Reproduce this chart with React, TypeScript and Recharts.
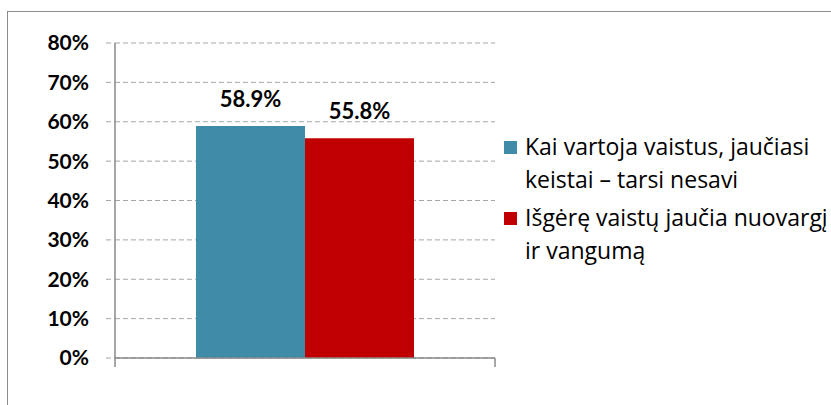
import React from 'react';
import { BarChart, Bar, XAxis, YAxis, CartesianGrid, LabelList } from 'recharts';

const categories = [''];
const firstValues = [58.9];
const secondValues = [55.8];
const seriesNames = [
  ['Kai vartoja vaistus, jaučiasi', 'keistai – tarsi nesavi'],
  ['Išgėrę vaistų jaučia nuovargį', 'ir vangumą'],
];
const seriesColors = ['#3F8CA8', '#C00000'];
const yTicks = [0, 10, 20, 30, 40, 50, 60, 70, 80];

const data = categories.map((name, i) => ({ name, a: firstValues[i], b: secondValues[i] }));

const FONT = 'Lato, "Noto Sans", sans-serif';
const LEGEND_FONT = '"Open Sans", "Noto Sans", sans-serif';

// category boundary tick marks, Excel style (between categories, not at centre)
const BoundaryTick = (props: any) => {
  const { x, y, payload } = props;
  const half = payload && payload.offset ? payload.offset : 0;
  if (!half) return <g />;
  return (
    <g>
      <line x1={x - half} x2={x - half} y1={y} y2={y + 9} stroke="#888888" strokeWidth={1.5} />
      <line x1={x + half} x2={x + half} y1={y} y2={y + 9} stroke="#888888" strokeWidth={1.5} />
    </g>
  );
};

const LegendBox = () => (
  <div style={{ fontFamily: LEGEND_FONT, fontSize: 23, lineHeight: '33px', color: '#000' }}>
    {seriesNames.map((lines, i) => (
      <div key={i} style={{ display: 'flex', alignItems: 'flex-start', marginBottom: 5, whiteSpace: 'nowrap' }}>
        <div style={{ width: 13, height: 13, background: seriesColors[i], marginTop: 11, marginRight: 8, flexShrink: 0 }} />
        <div>
          {lines.map((l, j) => (
            <div key={j}>{l}</div>
          ))}
        </div>
      </div>
    ))}
  </div>
);

const App: React.FC = () => {
  return (
    <div style={{ position: 'absolute', left: 0, top: 0, width: 831, height: 405, overflow: 'hidden', background: '#fff' }}>
      <div style={{ position: 'absolute', left: 7, top: 11, width: 840, height: 420, border: '1px solid #8c8c8c', boxSizing: 'border-box' }} />
      <div style={{ position: 'absolute', left: 0, top: 0 }}>
        <BarChart
          width={831}
          height={405}
          data={data}
          margin={{ top: 43, right: 336, bottom: 38, left: 0 }}
          barCategoryGap={81}
          barGap={0}
        >
          <CartesianGrid vertical={false} stroke="#A6A6A6" strokeDasharray="5 3" />
          <XAxis
            dataKey="name"
            height={9}
            tickSize={0}
            tickMargin={0}
            tickLine={false}
            tick={<BoundaryTick />}
            axisLine={{ stroke: '#888888', strokeWidth: 1.5 }}
          />
          <YAxis
            width={115}
            domain={[0, 80]}
            ticks={yTicks}
            interval={0}
            tickFormatter={(v: number) => `${v}%`}
            axisLine={{ stroke: '#888888', strokeWidth: 1.5 }}
            tickLine={{ stroke: '#A6A6A6', strokeDasharray: '5 3' }}
            tickSize={9}
            tickMargin={17}
            tick={{ fill: '#000', fontFamily: FONT, fontWeight: 700, fontSize: 21 }}
          />
          <Bar dataKey="a" fill={seriesColors[0]} isAnimationActive={false}>
            <LabelList
              dataKey="a"
              position="top"
              offset={19}
              formatter={(v: number) => `${v.toFixed(1)}%`}
              style={{ fill: '#000', fontFamily: FONT, fontWeight: 700, fontSize: 22 }}
            />
          </Bar>
          <Bar dataKey="b" fill={seriesColors[1]} isAnimationActive={false}>
            <LabelList
              dataKey="b"
              position="top"
              offset={19}
              formatter={(v: number) => `${v.toFixed(1)}%`}
              style={{ fill: '#000', fontFamily: FONT, fontWeight: 700, fontSize: 22 }}
            />
          </Bar>
        </BarChart>
      </div>
      <div style={{ position: 'absolute', left: 504, top: 130 }}>
        <LegendBox />
      </div>
    </div>
  );
};

export default App;
